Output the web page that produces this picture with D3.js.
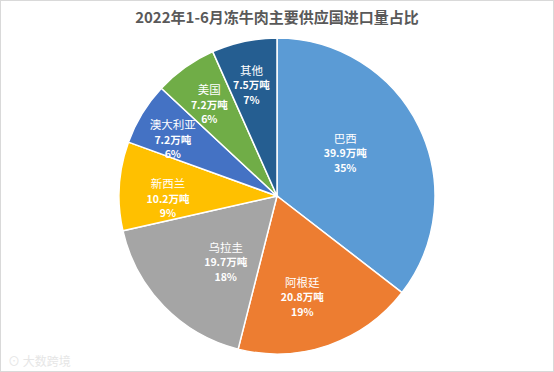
<!DOCTYPE html>
<html>
<head>
<meta charset="utf-8">
<script src="https://cdn.jsdelivr.net/npm/d3@7"></script>
<style>
  html, body { margin: 0; padding: 0; background: #fff; }
  svg text { font-family: "Noto Sans CJK SC", "Noto Sans", sans-serif; }
</style>
</head>
<body>
<div id="chart"></div>
<script>
// data
const countries = ["巴西", "阿根廷", "乌拉圭", "新西兰", "澳大利亚", "美国", "其他"];
const volumes = [39.9, 20.8, 19.7, 10.2, 7.2, 7.2, 7.5];   // 万吨
const shares = ["35%", "19%", "18%", "9%", "6%", "6%", "7%"];
const colors = ["#5b9bd5", "#ed7d31", "#a5a5a5", "#ffc000", "#4472c4", "#70ad47", "#255e91"];

(function(){
  const W = 554, H = 372;
  const cx = 277, cy = 196, R = 158;

  const svg = d3.select("#chart").append("svg")
    .attr("width", W).attr("height", H);

  // light frame round the picture
  svg.append("rect")
    .attr("x", 0.5).attr("y", 0.5)
    .attr("width", W - 1).attr("height", H - 1)
    .attr("fill", "#fff").attr("stroke", "#d9d9d9");

  svg.append("text")
    .attr("x", W / 2).attr("y", 23)
    .attr("text-anchor", "middle")
    .attr("font-size", 15).attr("font-weight", "bold")
    .attr("fill", "#595959")
    .text("2022年1-6月冻牛肉主要供应国进口量占比");

  const data = countries.map((c, i) => ({ name: c, value: volumes[i], share: shares[i], color: colors[i] }));

  const pie = d3.pie().sort(null).value(d => d.value);
  const arcs = pie(data);
  const arc = d3.arc().innerRadius(0).outerRadius(R);

  const g = svg.append("g").attr("transform", `translate(${cx},${cy})`);

  g.selectAll("path")
    .data(arcs)
    .enter().append("path")
    .attr("d", arc)
    .attr("fill", d => d.data.color)
    .attr("stroke", "#fff")
    .attr("stroke-width", 1.5);

  // label placement like Excel best fit: fraction of radius + small angle nudge (degrees)
  const labelFit = {
    "巴西": [0.51, -6], "阿根廷": [0.66, 5], "乌拉圭": [0.53, -8],
    "新西兰": [0.69, -5], "澳大利亚": [0.75, -3], "美国": [0.72, -1], "其他": [0.72, -1]
  };

  const labels = g.selectAll("g.lbl")
    .data(arcs)
    .enter().append("g")
    .attr("class", "lbl")
    .attr("transform", d => {
      const f = labelFit[d.data.name];
      const a = (d.startAngle + d.endAngle) / 2 + f[1] * Math.PI / 180;
      const r = f[0] * R;
      return `translate(${Math.sin(a) * r},${-Math.cos(a) * r})`;
    });

  labels.append("text")
    .attr("text-anchor", "middle").attr("y", -10.5)
    .attr("font-size", 11.5).attr("fill", "#fff")
    .text(d => d.data.name);

  labels.append("text")
    .attr("text-anchor", "middle").attr("y", 4)
    .attr("font-size", 10.5).attr("font-weight", "bold").attr("fill", "#fff")
    .text(d => d.data.value + "万吨");

  labels.append("text")
    .attr("text-anchor", "middle").attr("y", 18.5)
    .attr("font-size", 10.5).attr("font-weight", "bold").attr("fill", "#fff")
    .text(d => d.data.share);

  // faint watermark bottom-left
  svg.append("text")
    .attr("x", 8).attr("y", 366)
    .attr("font-size", 12).attr("fill", "#e6e6e6")
    .text("⊙ 大数跨境");
})();
</script>
</body>
</html>
